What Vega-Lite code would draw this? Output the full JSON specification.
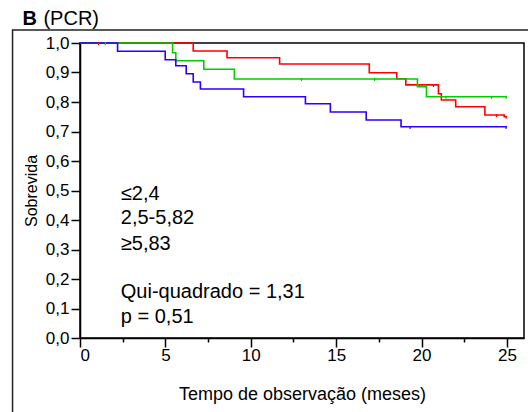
{
  "$schema": "https://vega.github.io/schema/vega-lite/v6.json",
  "width": 444,
  "height": 295,
  "autosize": {"type": "none"},
  "padding": {"left": 80, "top": 43, "right": 4, "bottom": 74},
  "background": "white",
  "config": {
    "font": "Liberation Sans",
    "view": {"stroke": "#000", "strokeWidth": 1.5},
    "axis": {"domainColor": "#000", "domainWidth": 1.5, "tickColor": "#000", "tickWidth": 1.5, "labelColor": "#000", "titleColor": "#000", "grid": false, "labelFontSize": 17, "titleFontSize": 18, "titleFontWeight": "normal"}
  },
  "datasets": {
    "curves": [
      {"group": "2,5-5,82", "t": 0, "s": 1.0},
      {"group": "2,5-5,82", "t": 6.63, "s": 0.973},
      {"group": "2,5-5,82", "t": 8.61, "s": 0.95},
      {"group": "2,5-5,82", "t": 11.69, "s": 0.929},
      {"group": "2,5-5,82", "t": 16.94, "s": 0.899},
      {"group": "2,5-5,82", "t": 18.55, "s": 0.879},
      {"group": "2,5-5,82", "t": 19.08, "s": 0.858},
      {"group": "2,5-5,82", "t": 20.99, "s": 0.828},
      {"group": "2,5-5,82", "t": 21.16, "s": 0.807},
      {"group": "2,5-5,82", "t": 22.0, "s": 0.784},
      {"group": "2,5-5,82", "t": 23.71, "s": 0.756},
      {"group": "2,5-5,82", "t": 24.84, "s": 0.75},
      {"group": "2,5-5,82", "t": 25, "s": 0.75},
      {"group": "≤2,4", "t": 0, "s": 1.0},
      {"group": "≤2,4", "t": 5.42, "s": 0.967},
      {"group": "≤2,4", "t": 5.61, "s": 0.94},
      {"group": "≤2,4", "t": 7.25, "s": 0.911},
      {"group": "≤2,4", "t": 9.04, "s": 0.878},
      {"group": "≤2,4", "t": 19.76, "s": 0.852},
      {"group": "≤2,4", "t": 20.29, "s": 0.818},
      {"group": "≤2,4", "t": 25, "s": 0.818},
      {"group": "≥5,83", "t": 0, "s": 1.0},
      {"group": "≥5,83", "t": 2.2, "s": 0.972},
      {"group": "≥5,83", "t": 4.99, "s": 0.943},
      {"group": "≥5,83", "t": 5.61, "s": 0.923},
      {"group": "≥5,83", "t": 6.22, "s": 0.896},
      {"group": "≥5,83", "t": 6.63, "s": 0.868},
      {"group": "≥5,83", "t": 7.05, "s": 0.844},
      {"group": "≥5,83", "t": 9.58, "s": 0.818},
      {"group": "≥5,83", "t": 13.2, "s": 0.794},
      {"group": "≥5,83", "t": 14.66, "s": 0.766},
      {"group": "≥5,83", "t": 16.76, "s": 0.739},
      {"group": "≥5,83", "t": 18.8, "s": 0.716},
      {"group": "≥5,83", "t": 25, "s": 0.716}
    ],
    "censor": [
      {"group": "2,5-5,82", "t": 1.08, "s": 1.0},
      {"group": "2,5-5,82", "t": 20.7, "s": 0.858},
      {"group": "2,5-5,82", "t": 24.39, "s": 0.756},
      {"group": "2,5-5,82", "t": 24.95, "s": 0.75},
      {"group": "≤2,4", "t": 1.49, "s": 1.0},
      {"group": "≤2,4", "t": 12.97, "s": 0.878},
      {"group": "≤2,4", "t": 17.25, "s": 0.878},
      {"group": "≤2,4", "t": 21.43, "s": 0.818},
      {"group": "≤2,4", "t": 24.1, "s": 0.818},
      {"group": "≤2,4", "t": 24.95, "s": 0.818},
      {"group": "≥5,83", "t": 19.33, "s": 0.716},
      {"group": "≥5,83", "t": 24.95, "s": 0.716}
    ],
    "notes": [
      {"label": "≤2,4", "t": 2.39, "s": 0.469},
      {"label": "2,5-5,82", "t": 2.39, "s": 0.386},
      {"label": "≥5,83", "t": 2.39, "s": 0.3},
      {"label": "Qui-quadrado = 1,31", "t": 2.39, "s": 0.135},
      {"label": "p = 0,51", "t": 2.39, "s": 0.051}
    ],
    "heading": [
      {"label": "B", "t": -3.37, "s": 1.061}
    ],
    "subheading": [
      {"label": "(PCR)", "t": -2.14, "s": 1.061}
    ]
  },
  "layer": [
    {
      "data": {"values": [{"frame": "outer"}]},
      "mark": {"type": "rect", "filled": false, "color": "#222", "strokeWidth": 1.5, "clip": false},
      "encoding": {
        "x": {"datum": -3.95, "type": "quantitative", "scale": {"domain": [0, 25]}, "axis": null},
        "x2": {"datum": 40},
        "y": {"datum": 1.044, "type": "quantitative", "scale": {"domain": [0, 1]}, "axis": null},
        "y2": {"datum": -1}
      }
    },
    {
      "data": {"name": "curves"},
      "mark": {"type": "line", "interpolate": "step-after", "strokeWidth": 1.6},
      "encoding": {
        "x": {"field": "t", "type": "quantitative", "scale": {"domain": [0, 25], "padding": 0},
          "axis": {"values": [0, 5, 10, 15, 20, 25], "tickSize": 9, "labelPadding": 0, "title": "Tempo de observação (meses)", "titlePadding": 22, "orient": "bottom"}},
        "y": {"field": "s", "type": "quantitative", "scale": {"domain": [0, 1], "padding": 0},
          "axis": {"values": [0, 0.1, 0.2, 0.3, 0.4, 0.5, 0.6, 0.7, 0.8, 0.9, 1.0], "tickSize": 9, "labelPadding": 2, "labelExpr": "replace(format(datum.value, '.1f'), '.', ',')", "title": "Sobrevida", "titleFontSize": 16, "titlePadding": 6}},
        "color": {"field": "group", "type": "nominal", "scale": {"domain": ["2,5-5,82", "≤2,4", "≥5,83"], "range": ["#ff0000", "#00cc00", "#2a00ff"]}, "legend": null},
        "order": {"field": "t"}
      }
    },
    {
      "data": {"name": "censor"},
      "mark": {"type": "point", "shape": "M0,-0.3L0,0.7", "size": 36, "filled": false, "strokeWidth": 1.2, "opacity": 1},
      "encoding": {
        "x": {"field": "t", "type": "quantitative", "scale": {"domain": [0, 25]},
          "axis": {"values": [2.5, 7.5, 12.5, 17.5, 22.5], "tickSize": 4, "labels": false, "domain": false, "title": null, "orient": "bottom"}},
        "y": {"field": "s", "type": "quantitative", "scale": {"domain": [0, 1]}, "axis": null},
        "color": {"field": "group", "type": "nominal", "legend": null}
      }
    },
    {
      "data": {"name": "notes"},
      "mark": {"type": "text", "align": "left", "baseline": "alphabetic", "fontSize": 20, "color": "#000"},
      "encoding": {
        "x": {"field": "t", "type": "quantitative", "axis": null},
        "y": {"field": "s", "type": "quantitative", "axis": null},
        "text": {"field": "label"}
      }
    },
    {
      "data": {"name": "heading"},
      "mark": {"type": "text", "align": "left", "baseline": "alphabetic", "fontSize": 20, "fontWeight": "bold", "color": "#000", "clip": false},
      "encoding": {
        "x": {"field": "t", "type": "quantitative", "axis": null},
        "y": {"field": "s", "type": "quantitative", "axis": null},
        "text": {"field": "label"}
      }
    },
    {
      "data": {"name": "subheading"},
      "mark": {"type": "text", "align": "left", "baseline": "alphabetic", "fontSize": 20, "color": "#000", "clip": false},
      "encoding": {
        "x": {"field": "t", "type": "quantitative", "axis": null},
        "y": {"field": "s", "type": "quantitative", "axis": null},
        "text": {"field": "label"}
      }
    }
  ],
  "resolve": {"axis": {"x": "independent", "y": "independent"}}
}
